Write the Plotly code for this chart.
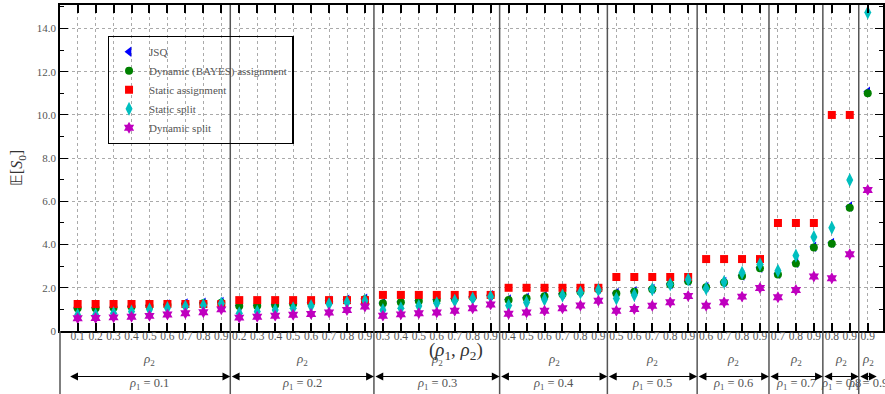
import plotly.graph_objects as go

# ---------------- data ----------------
rho1_values = [0.1, 0.2, 0.3, 0.4, 0.5, 0.6, 0.7, 0.8, 0.9]
rho2_values = [
    [0.1, 0.2, 0.3, 0.4, 0.5, 0.6, 0.7, 0.8, 0.9],
    [0.2, 0.3, 0.4, 0.5, 0.6, 0.7, 0.8, 0.9],
    [0.3, 0.4, 0.5, 0.6, 0.7, 0.8, 0.9],
    [0.4, 0.5, 0.6, 0.7, 0.8, 0.9],
    [0.5, 0.6, 0.7, 0.8, 0.9],
    [0.6, 0.7, 0.8, 0.9],
    [0.7, 0.8, 0.9],
    [0.8, 0.9],
    [0.9],
]

jsq = [
    [1.07, 1.08, 1.10, 1.14, 1.18, 1.23, 1.27, 1.31, 1.34],
    [1.18, 1.19, 1.22, 1.27, 1.33, 1.40, 1.45, 1.49],
    [1.30, 1.35, 1.41, 1.46, 1.51, 1.58, 1.66],
    [1.46, 1.54, 1.63, 1.72, 1.84, 1.95],
    [1.76, 1.84, 1.95, 2.17, 2.32],
    [2.04, 2.27, 2.57, 2.93],
    [2.65, 3.16, 3.90],
    [4.08, 5.76],
    [11.08],
]
dynamic_assignment = [
    [1.05, 1.05, 1.08, 1.12, 1.16, 1.20, 1.24, 1.28, 1.31],
    [1.16, 1.17, 1.20, 1.25, 1.31, 1.38, 1.43, 1.47],
    [1.28, 1.33, 1.39, 1.44, 1.49, 1.56, 1.64],
    [1.44, 1.52, 1.61, 1.70, 1.82, 1.93],
    [1.74, 1.82, 1.93, 2.15, 2.30],
    [2.02, 2.25, 2.55, 2.90],
    [2.62, 3.13, 3.86],
    [4.04, 5.71],
    [11.0],
]
static_assignment = [
    [1.25, 1.25, 1.25, 1.25, 1.25, 1.25, 1.25, 1.25, 1.25],
    [1.43, 1.43, 1.43, 1.43, 1.43, 1.43, 1.43, 1.43],
    [1.67, 1.67, 1.67, 1.67, 1.67, 1.67, 1.67],
    [2.0, 2.0, 2.0, 2.0, 2.0, 2.0],
    [2.5, 2.5, 2.5, 2.5, 2.5],
    [3.33, 3.33, 3.33, 3.33],
    [5.0, 5.0, 5.0],
    [10.0, 10.0],
    [None],
]
static_split = [
    [0.74, 0.75, 0.82, 0.90, 0.99, 1.06, 1.13, 1.19, 1.27],
    [0.82, 0.90, 0.97, 1.05, 1.16, 1.25, 1.33, 1.40],
    [0.97, 1.05, 1.16, 1.28, 1.40, 1.51, 1.59],
    [1.18, 1.32, 1.46, 1.64, 1.78, 1.90],
    [1.51, 1.67, 1.93, 2.16, 2.38],
    [1.97, 2.27, 2.70, 3.09],
    [2.79, 3.49, 4.35],
    [4.78, 6.99],
    [14.74],
]
dynamic_split = [
    [0.59, 0.60, 0.63, 0.66, 0.70, 0.76, 0.82, 0.87, 1.00],
    [0.62, 0.66, 0.71, 0.75, 0.79, 0.86, 0.97, 1.13],
    [0.71, 0.77, 0.82, 0.86, 0.94, 1.05, 1.23],
    [0.80, 0.86, 0.94, 1.05, 1.18, 1.40],
    [0.94, 1.02, 1.17, 1.33, 1.62],
    [1.17, 1.33, 1.59, 1.99],
    [1.56, 1.90, 2.52],
    [2.44, 3.55],
    [6.53],
]
y_tick_values = [0, 2, 4, 6, 8, 10, 12, 14]
y_tick_labels = ["0", "2.0", "4.0", "6.0", "8.0", "10.0", "12.0", "14.0"]

# ---------------- build positions ----------------
x_idx, tick_text, group_bounds = [], [], []
for g, r2list in enumerate(rho2_values):
    start = len(x_idx)
    for r2 in r2list:
        x_idx.append(len(x_idx))
        tick_text.append(f"{r2:.1f}")
    group_bounds.append((start - 0.5, len(x_idx) - 0.5))


def flat(groups):
    return [v for grp in groups for v in grp]


SERIF = "Liberation Serif"
TXT = "#555555"

series = [
    ("JSQ", jsq, "triangle-left", "#0000ff", 9),
    ("Dynamic (BAYES) assignment", dynamic_assignment, "circle", "#008000", 8),
    ("Static assignment", static_assignment, "square", "#ff0000", 8),
    ("Static split", static_split, "diamond-tall", "#00bfbf", 10),
    ("Dynamic split", dynamic_split, "hexagram", "#bf00bf", 9),
]

fig = go.Figure()
for name, vals, sym, col, sz in series:
    fig.add_trace(go.Scatter(
        x=x_idx, y=flat(vals), mode="markers", name=name,
        marker=dict(symbol=sym, color=col, size=sz, line=dict(width=0)),
        cliponaxis=False,
    ))

x_lo, x_hi = -0.983, 44.85
Y_ARROW, Y_RHO2, Y_RHO1, Y_BOTTOM = -0.1396, -0.087, -0.1626, -0.2

shapes = []
annotations = []
# white background behind legend (above grid, below traces)
shapes.append(dict(type="rect", xref="paper", yref="paper", x0=0.058, x1=0.283,
                   y0=0.56, y1=0.905, fillcolor="white", line=dict(width=0),
                   layer="between"))
# group separators
for (a, b) in group_bounds[:-1]:
    shapes.append(dict(type="line", xref="x", yref="paper", x0=b, x1=b,
                       y0=Y_BOTTOM, y1=1, line=dict(color="#555555", width=1.5),
                       layer="above"))
# left axis extension
shapes.append(dict(type="line", xref="paper", yref="paper", x0=0, x1=0,
                   y0=Y_BOTTOM, y1=0, line=dict(color="#555555", width=1.5)))

for g, (a, b) in enumerate(group_bounds):
    left = max(a, -0.9)
    mid = (a + b) / 2
    annotations.append(dict(x=mid, y=Y_RHO2, xref="x", yref="paper", showarrow=False,
                            text="<i>ρ</i><sub>2</sub>", font=dict(family=SERIF, size=13, color=TXT),
                            yanchor="middle"))
    annotations.append(dict(x=mid, y=Y_RHO1, xref="x", yref="paper", showarrow=False,
                            text=f"<i>ρ</i><sub>1</sub> = {rho1_values[g]}",
                            font=dict(family=SERIF, size=12.5, color=TXT), yanchor="middle"))
    annotations.append(dict(x=b, y=Y_ARROW, ax=left, ay=0, xref="x", yref="paper",
                            axref="x", ayref="pixel", text="", showarrow=True,
                            arrowside="end+start", arrowhead=2, arrowsize=1.3,
                            arrowwidth=1.2, arrowcolor="black", standoff=0, startstandoff=0))

annotations.append(dict(x=21.07, y=-0.061, xref="x", yref="paper", showarrow=False,
                        text="(<i>ρ</i><sub>1</sub>, <i>ρ</i><sub>2</sub>)",
                        font=dict(family=SERIF, size=19, color="#333333"), yanchor="middle"))

fig.update_layout(
    width=885, height=394,
    margin=dict(l=60, r=0, t=5, b=63),
    paper_bgcolor="white", plot_bgcolor="white",
    font=dict(family=SERIF, size=12, color=TXT),
    showlegend=True,
    legend=dict(x=0.058, y=0.905, xanchor="left", yanchor="top",
                bgcolor="rgba(255,255,255,0)", bordercolor="black", borderwidth=1.3,
                font=dict(family=SERIF, size=11, color=TXT)),
    shapes=shapes,
    annotations=annotations,
)
fig.update_xaxes(
    range=[x_lo, x_hi], tickmode="array", tickvals=x_idx, ticktext=tick_text,
    tickangle=0, ticklabelstandoff=-7,
    ticks="inside", ticklen=8, tickwidth=1.5, tickcolor="black",
    showline=True, linecolor="black", linewidth=1.5, mirror="ticks",
    showgrid=True, gridcolor="#aaaaaa", griddash="dot", gridwidth=1,
    zeroline=False, tickfont=dict(family=SERIF, size=11.5, color=TXT),
)
fig.update_yaxes(
    range=[0, 15.09], tickmode="array", tickvals=y_tick_values, ticktext=y_tick_labels,
    ticks="inside", ticklen=8, tickwidth=1.3, tickcolor="black",
    minor=dict(dtick=1, ticks="inside", ticklen=4, tickcolor="black", showgrid=False),
    showline=True, linecolor="black", linewidth=1.5, mirror="ticks",
    showgrid=True, gridcolor="#aaaaaa", griddash="dot", gridwidth=1,
    zeroline=False, tickfont=dict(family=SERIF, size=11, color=TXT),
    title=dict(text="𝔼[<i>S</i><sub>0</sub>]", font=dict(family=SERIF, size=16, color="#333333"),
               standoff=10),
)

fig.write_html("out.html")
